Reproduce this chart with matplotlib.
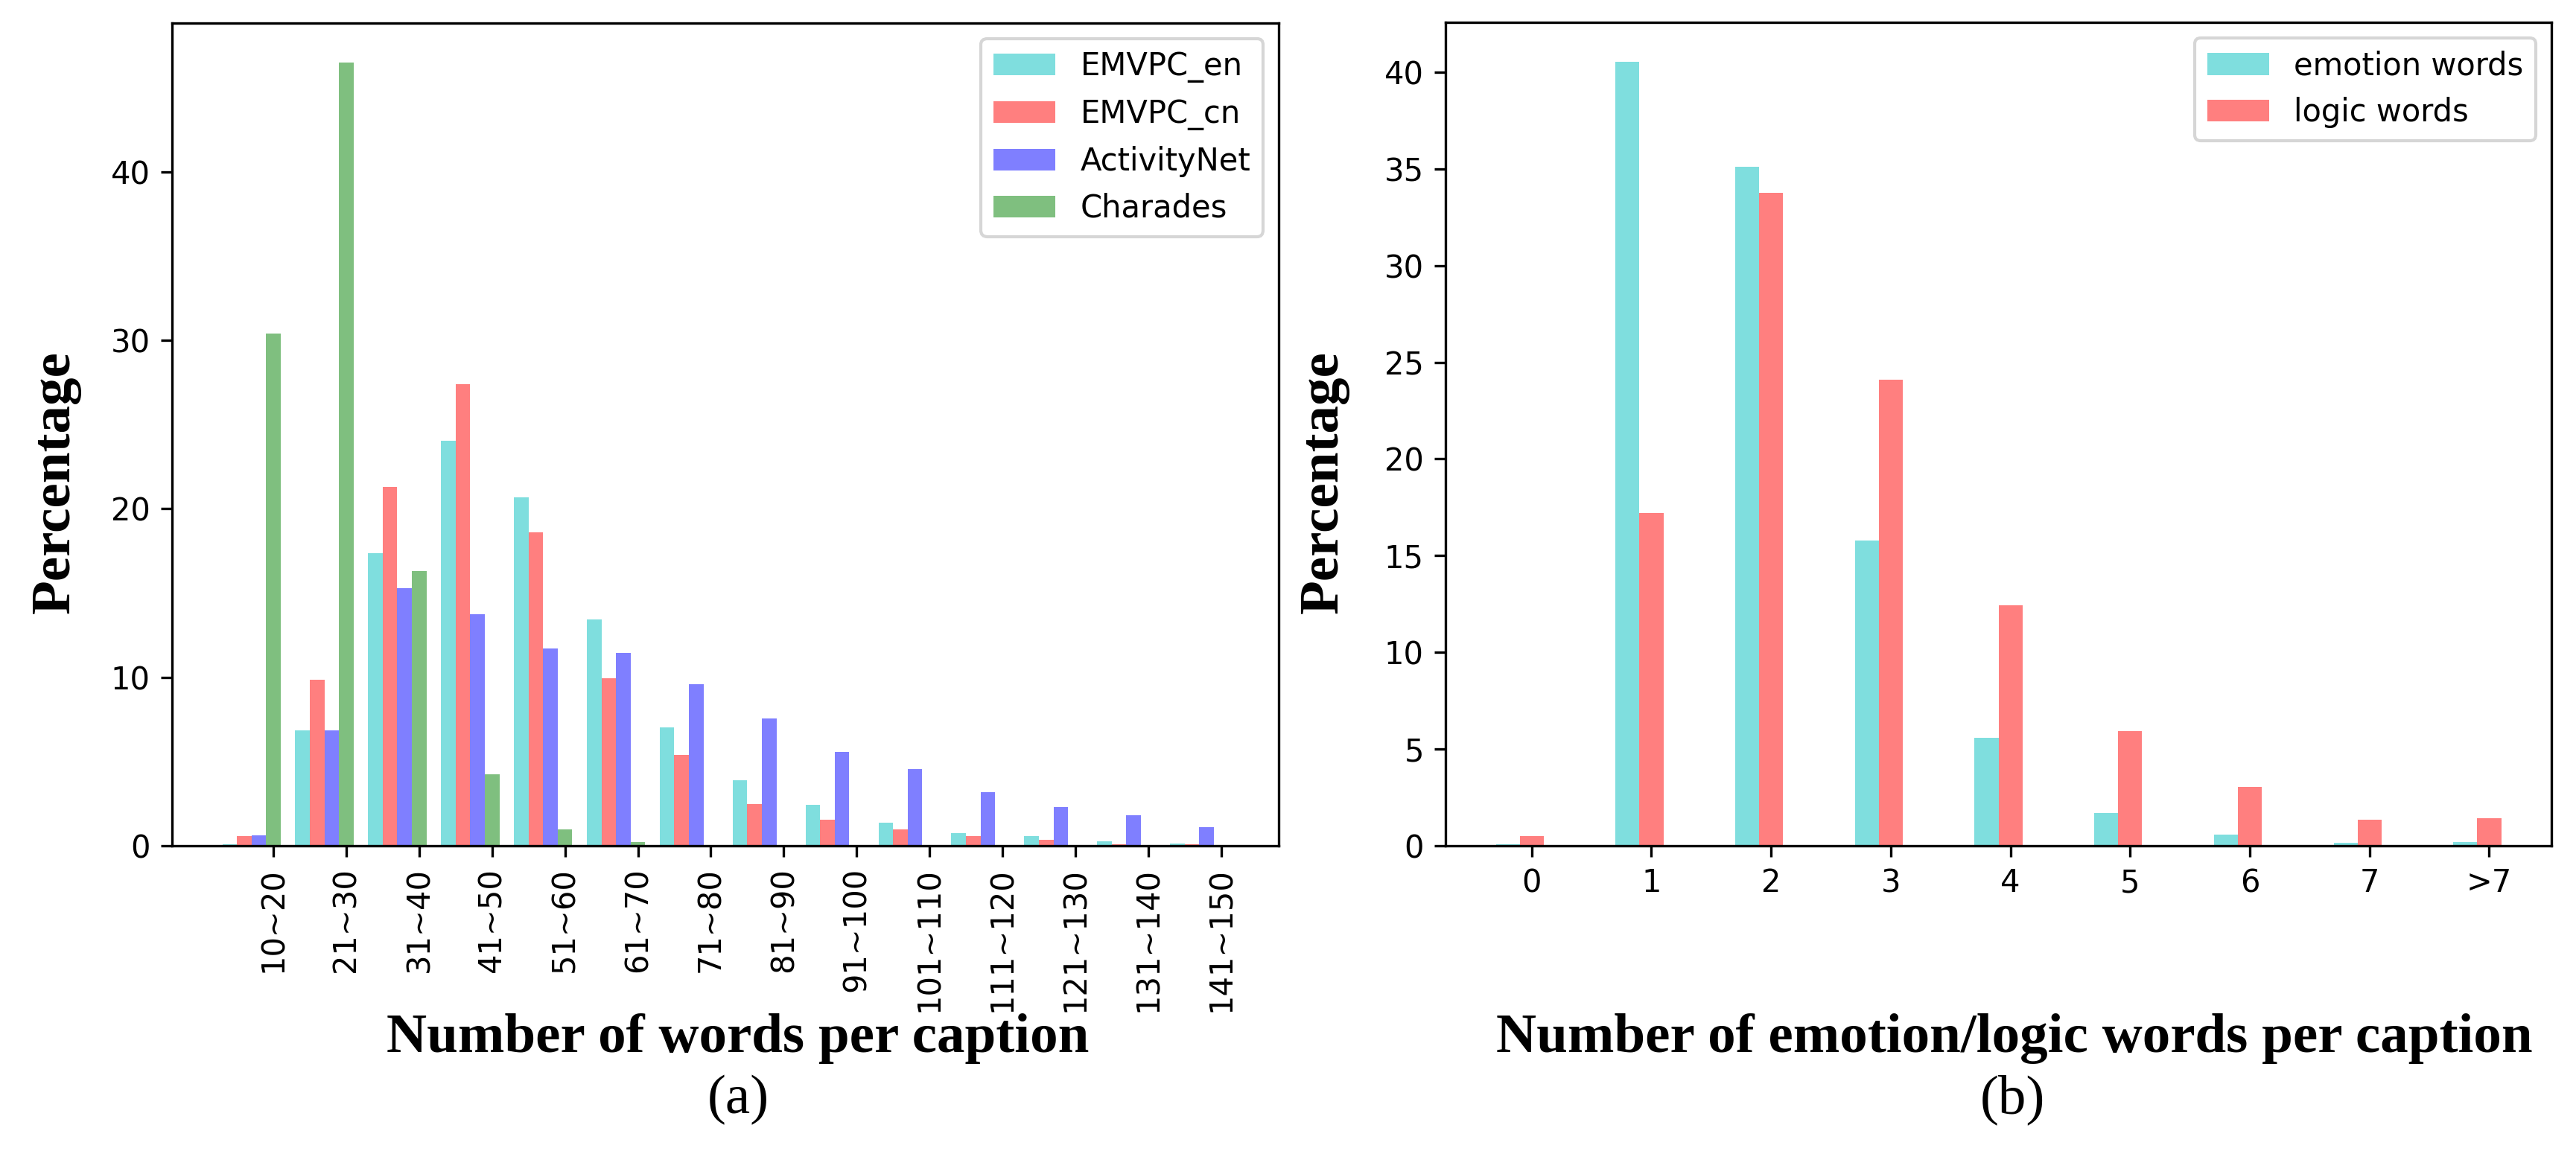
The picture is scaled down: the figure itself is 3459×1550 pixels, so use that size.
import numpy as np
import matplotlib
matplotlib.use('Agg')
import matplotlib.pyplot as plt

# (a) words per caption
word_bins = ['10~20', '21~30', '31~40', '41~50', '51~60', '61~70', '71~80',
             '81~90', '91~100', '101~110', '111~120', '121~130', '131~140', '141~150']
emvpc_en = [0.1, 6.83, 17.35, 24.04, 20.7, 13.42, 7.03, 3.9, 2.45, 1.36, 0.76, 0.58, 0.28, 0.15]
emvpc_cn = [0.56, 9.87, 21.3, 27.4, 18.6, 9.94, 5.38, 2.49, 1.56, 0.97, 0.59, 0.35, 0.11, 0.07]
activitynet = [0.63, 6.86, 15.3, 13.76, 11.73, 11.43, 9.57, 7.54, 5.56, 4.53, 3.18, 2.31, 1.79, 1.09]
charades = [30.4, 46.5, 16.3, 4.23, 0.97, 0.22, 0.04, 0.02, 0.0, 0.0, 0.0, 0.0, 0.0, 0.0]

# (b) emotion / logic words per caption
count_bins = ['0', '1', '2', '3', '4', '5', '6', '7', '>7']
emotion_words = [0.06, 40.55, 35.1, 15.8, 5.57, 1.71, 0.56, 0.15, 0.2]
logic_words = [0.5, 17.2, 33.77, 24.1, 12.44, 5.92, 3.04, 1.36, 1.41]

W, H = 3459, 1550
fig = plt.figure(figsize=(W / 300, H / 300), dpi=300)

label_font = dict(family='Liberation Serif', fontsize=18)

# ---- left panel ----
ax1 = fig.add_axes([231 / W, 1 - 1136 / H, 1486 / W, 1105 / H])
x = np.arange(len(word_bins))
w = 0.2
ax1.bar(x, emvpc_en, w, color='c', alpha=0.5, label='EMVPC_en')
ax1.bar(x + w, emvpc_cn, w, color='r', alpha=0.5, label='EMVPC_cn')
ax1.bar(x + 2 * w, activitynet, w, color='b', alpha=0.5, label='ActivityNet')
ax1.bar(x + 3 * w, charades, w, color='g', alpha=0.5, label='Charades')
ax1.set_xticks(x + 3 * w)
ax1.set_xticklabels(word_bins, rotation=90)
ax1.legend(loc='upper right')

# ---- right panel ----
ax2 = fig.add_axes([1941 / W, 1 - 1136 / H, 1485 / W, 1106 / H])
x2 = np.arange(len(count_bins))
ax2.bar(x2, emotion_words, w, color='c', alpha=0.5, label='emotion words')
ax2.bar(x2 + w, logic_words, w, color='r', alpha=0.5, label='logic words')
ax2.set_xticks(x2 + w)
ax2.set_xticklabels(count_bins)
ax2.legend(loc='upper right')

# labels placed on the figure
fig.text(75 / W, 1 - 648 / H, 'Percentage', rotation=90, ha='center', va='center',
         fontweight='bold', **label_font)
fig.text(1778 / W, 1 - 648 / H, 'Percentage', rotation=90, ha='center', va='center',
         fontweight='bold', **label_font)
fig.text(991 / W, 1 - 1413 / H, 'Number of words per caption', ha='center', va='baseline',
         fontweight='bold', **label_font)
fig.text(2705 / W, 1 - 1413 / H, 'Number of emotion/logic words per caption', ha='center',
         va='baseline', fontweight='bold', **label_font)
fig.text(991 / W, 1 - 1477 / H, '(a)', ha='center', va='center', **label_font)
fig.text(2702 / W, 1 - 1477 / H, '(b)', ha='center', va='center', **label_font)

fig.savefig('out.png', dpi=300, facecolor='white')
